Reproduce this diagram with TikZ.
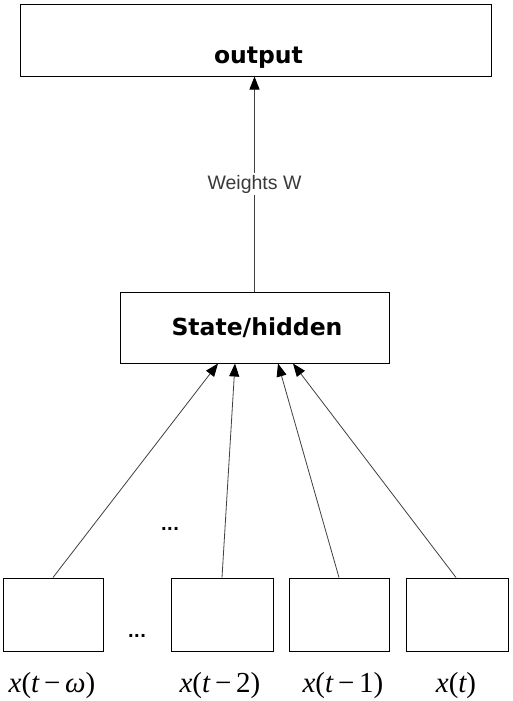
\documentclass[tikz,border=0pt]{standalone}
\usepackage{fontspec}
\usetikzlibrary{calc,arrows.meta}
\newfontfamily\boldsans{DejaVu Sans}[BoldFont={DejaVu Sans Bold}]
\newfontfamily\lblsans{Liberation Sans}
\newfontfamily\serifit{Liberation Serif}
\definecolor{linegray}{HTML}{404040}
\definecolor{textgray}{HTML}{3A3A3A}
\tikzset{
  box/.style={draw=black, line width=1pt, fill=white, inner sep=0pt},
  conn/.style={draw=linegray, line width=0.8pt, -{Triangle[length=13pt,width=10pt,color=black]}},
  boxtext/.style={font=\boldsans\bfseries\fontsize{23.5}{27}\selectfont, inner sep=0pt},
  dots/.style={font=\boldsans\bfseries\fontsize{16}{18}\selectfont, anchor=base, inner sep=0pt},
  inlbl/.style={font=\serifit\fontsize{29}{32}\selectfont, anchor=base, inner sep=0pt},
}
\begin{document}
\begin{tikzpicture}[x=1pt,y=-1pt]
\useasboundingbox[fill=white] (0,0) rectangle (513,701);
% boxes
\node[box, minimum width=471pt, minimum height=71pt] (out) at (255.5,40.5) {};
\node[boxtext] (outtxt) at ($(out.center)+(3,17)$) {output};
\node[box, minimum width=269pt, minimum height=71pt] (hid) at (254.5,327.5) {};
\node[boxtext] (hidtxt) at ($(hid.center)+(2.5,0.5)$) {State/hidden};
\node[box, minimum width=100pt, minimum height=73pt] (b1) at (53,614.5) {};
\node[box, minimum width=102pt, minimum height=73pt] (b2) at (222,614.5) {};
\node[box, minimum width=100pt, minimum height=73pt] (b3) at (339,614.5) {};
\node[box, minimum width=102pt, minimum height=73pt] (b4) at (457,614.5) {};
% connectors
\draw[conn] (hid.north) -- (hid.north |- out.south) node[pos=0.5, fill=white, inner sep=2pt, text=textgray, font=\lblsans\fontsize{19.5}{21}\selectfont] (w) {Weights W};
\coordinate (h1) at ($(hid.south)+(-36.5,0)$);
\coordinate (h2) at ($(hid.south)+(-19.5,0)$);
\coordinate (h3) at ($(hid.south)+(23.5,0)$);
\coordinate (h4) at ($(hid.south)+(38.5,0)$);
\draw[conn] (b1.north) -- (h1);
\draw[conn] (b2.north) -- (h2);
\draw[conn] (b3.north) -- (h3);
\draw[conn] ($(b4.north)+(-1,0)$) -- (h4);
% dots
\node[dots] (d1) at (170,530) {...};
\node[dots] (d2) at (137,637) {...};
% labels
\node[inlbl] (l1) at (52,692) {\itshape x\upshape(\itshape t\upshape\,−\,\itshape ω\upshape)};
\node[inlbl] (l2) at (220,692) {\itshape x\upshape(\itshape t\upshape\,−\,2)};
\node[inlbl] (l3) at (343,692) {\itshape x\upshape(\itshape t\upshape\,−\,1)};
\node[inlbl] (l4) at (456,692) {\itshape x\upshape(\itshape t\upshape)};
\end{tikzpicture}
\end{document}
